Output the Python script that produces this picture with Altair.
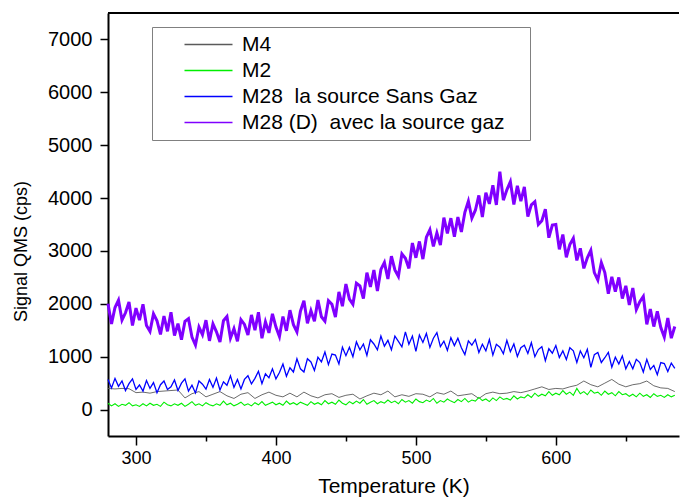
import altair as alt
import pandas as pd

# ---------------- data ----------------
T_START = 280.0
T_STEP = 2.5          # sampling of the dense QMS series (K)
M4_START = 280.0
M4_STEP = 5.0         # sampling of the M4 series (K)
X_MIN, X_MAX = 280, 688
Y_MIN, Y_MAX = -500, 7500

names = ["M4", "M2", "M28\u00a0 la source Sans Gaz", "M28 (D)\u00a0 avec la source gaz"]
colors = ["#5a5a5a", "#00ee00", "#0000ff", "#8000ff"]
widths = [0.9, 1.1, 1.3, 3.0]

m28d = [
    2000, 1620, 1930, 2070, 1690, 1830, 2035, 1590, 1920, 1690,
    1990, 1590, 1480, 1810, 1680, 1420, 1770, 1480, 1840, 1400,
    1625, 1320, 1670, 1720, 1370, 1220, 1560, 1415, 1690, 1300,
    1620, 1470, 1280, 1680, 1760, 1350, 1530, 1290, 1700, 1610,
    1410, 1790, 1500, 1840, 1350, 1660, 1450, 1810, 1560, 1380,
    1760, 1490, 1880, 1605, 1470, 1860, 2060, 1630, 1870, 1670,
    2070, 1755, 1670, 2060, 1990, 1750, 2225, 1955, 2375, 2090,
    1990, 2390, 2340, 2100, 2590, 2320, 2640, 2240, 2650, 2780,
    2470, 2900, 2640, 2520, 2945, 2860, 2670, 3150, 2870, 3180,
    2845, 3260, 3400, 3085, 3340, 3110, 3630, 3330, 3620, 3270,
    3640, 3360, 3730, 3940, 3620, 3770, 4050, 3640, 4100, 3890,
    4240, 3870, 4500, 3960, 4155, 4310, 3880, 4230, 3940, 4210,
    3650, 3870, 3930, 3500, 3570, 3790, 3250, 3490, 3500, 3030,
    3310, 2880, 3120, 3240, 2820, 3050, 2670, 2870, 3010, 2590,
    2450, 2780, 2590, 2190, 2510, 2230, 2500, 2100, 2340, 1980,
    2300, 1890, 2040, 2140, 1610, 1900, 1570, 1860, 1550, 1370,
    1730, 1350, 1570,
]

m28 = [
    570, 410, 590, 440, 540, 360, 490, 580, 380, 465,
    350, 550, 400, 510, 320, 470, 540, 380, 430, 560,
    360, 500, 580, 350, 460, 315, 540, 480, 385, 570,
    420, 595, 370, 525, 460, 640, 420, 570, 390, 570,
    640, 485, 590, 725, 490, 675, 600, 770, 580, 700,
    860, 630, 790, 710, 960, 770, 710, 960, 900, 740,
    990, 900, 1090, 850, 1050, 1030, 860, 1180, 1020, 1180,
    1000, 1280, 1130, 1240, 1025, 1320, 1240, 1130, 1390, 1200,
    1310, 1130, 1390, 1290, 1185, 1470, 1235, 1390, 1100, 1410,
    1270, 1440, 1175, 1350, 1455, 1190, 1295, 1120, 1360, 1210,
    1350, 1170, 1040, 1300, 1220, 1325, 1080, 1235, 1110, 1325,
    1030, 1235, 1180, 1055, 1310, 1095, 1240, 1005, 1170, 1215,
    1060, 1265, 1000, 1135, 1190, 925, 1150, 1065, 1210, 985,
    1110, 945, 1170, 1110, 890, 1110, 980, 1140, 800, 1040,
    1080, 890, 980, 1080, 800, 990, 860, 1015, 770, 910,
    770, 950, 890, 710, 950, 760, 835, 660, 890, 870,
    720, 880, 780,
]

m2 = [
    120, 70, 110, 60, 100, 80, 130, 70, 90, 60,
    110, 70, 120, 80, 100, 60, 140, 90, 70, 110,
    80, 120, 60, 100, 150, 80, 110, 70, 130, 90,
    70, 110, 80, 160, 90, 120, 70, 100, 140, 80,
    110, 70, 130, 90, 150, 80, 110, 140, 90, 120,
    80, 160, 100, 130, 90, 140, 110, 80, 150, 100,
    130, 90, 170, 110, 140, 100, 180, 120, 90, 150,
    110, 160, 120, 190, 100, 140, 170, 110, 150, 120,
    180, 130, 160, 110, 190, 140, 170, 120, 200, 150,
    130, 180, 150, 210, 120, 170, 140, 200, 160, 130,
    190, 150, 210, 140, 180, 160, 230, 170, 200, 150,
    220, 170, 240, 190, 210, 180, 260, 200, 240, 220,
    280, 230, 310, 250, 290, 260, 340, 270, 310, 280,
    360, 290, 330, 270, 400, 300, 340, 280, 370, 310,
    330, 270, 350, 290, 320, 260, 340, 280, 300, 250,
    290, 240, 310, 250, 280, 230, 300, 250, 270, 230,
    280, 240, 270,
]

m4 = [
    400, 390, 400, 395, 320, 330, 310, 340, 350, 360,
    370, 220, 300, 340, 240, 290, 340, 260, 210, 290,
    320, 210, 280, 330, 270, 240, 310, 240, 330, 260,
    220, 280, 300, 230, 270, 290, 200, 260, 310, 280,
    350, 240, 280, 250, 300, 290, 240, 320, 290, 350,
    260, 280, 300, 210, 300, 330, 300, 310, 340, 320,
    350, 390, 430, 380, 400, 390, 430, 460, 540, 470,
    430, 500, 570, 480, 430, 470, 490, 540, 450, 410,
    400, 340,
]

# ---------------- build table ----------------
rows = []
for name, vals, start, step in [
    (names[0], m4, M4_START, M4_STEP),
    (names[1], m2, T_START, T_STEP),
    (names[2], m28, T_START, T_STEP),
    (names[3], m28d, T_START, T_STEP),
]:
    for i, v in enumerate(vals):
        rows.append({"T": start + i * step, "v": v, "series": name})
df = pd.DataFrame(rows)

FONT = "Liberation Sans"

xscale = alt.Scale(domain=[X_MIN, X_MAX], nice=False, zero=False)
yscale = alt.Scale(domain=[Y_MIN, Y_MAX], nice=False, zero=False)

xaxis = alt.Axis(
    values=[300, 350, 400, 450, 500, 550, 600, 650],
    labelExpr="datum.value % 100 === 0 ? datum.label : ''",
    format="d",
    tickSize={"condition": {"test": "datum.value % 100 === 0", "value": 9}, "value": 5},
    tickColor="black", tickWidth=1.5,
    domainColor="black", domainWidth=2,
    labelFont=FONT, labelFontSize=18, labelColor="black", labelPadding=4,
    labelOverlap=False, grid=False,
    title="Temperature (K)", titleFont=FONT, titleFontSize=21,
    titleFontWeight="normal", titleColor="black", titlePadding=8,
)
yaxis = alt.Axis(
    values=list(range(0, 7001, 500)),
    labelExpr="datum.value % 1000 === 0 ? datum.label : ''",
    format="d",
    tickSize={"condition": {"test": "datum.value % 1000 === 0", "value": 8}, "value": 4},
    tickColor="black", tickWidth=1.5,
    domainColor="black", domainWidth=2,
    labelFont=FONT, labelFontSize=20, labelColor="black", labelPadding=8,
    labelOverlap=False, grid=False,
    title="Signal QMS (cps)", titleFont=FONT, titleFontSize=18,
    titleFontWeight="normal", titleColor="black",
    titleX=-87, titleY=238, titleBaseline="middle", titleAngle=270, titleAlign="center",
)

# trailing no-break spaces (closed by a zero-width space so they are kept)
# widen the legend frame on the right like the reference box
legend = alt.Legend(
    title=None, orient="none", legendX=44, legendY=14,
    strokeColor="#808080", fillColor="white", padding=7,
    symbolType="M-4,0H4", symbolSize=144, symbolOffset=39, symbolStrokeWidth=1.3,
    labelFont=FONT, labelFontSize=21, labelColor="black", labelOffset=23,
    labelLimit=0, rowPadding=4,
    labelExpr="datum.label + '\u00a0\u00a0\u00a0\u200b'",
)

color = alt.Color("series:N", scale=alt.Scale(domain=names, range=colors), legend=legend)

layers = []
for name, w in zip(names, widths):
    layers.append(
        alt.Chart(df).transform_filter(alt.datum.series == name)
        .mark_line(interpolate="linear", strokeWidth=w)
        .encode(
            x=alt.X("T:Q", scale=xscale, axis=xaxis),
            y=alt.Y("v:Q", scale=yscale, axis=yaxis),
            color=color,
            order=alt.Order("T:Q"),
        )
    )

# top frame line of the plot area
top = alt.Chart(df).transform_filter(alt.datum.series == names[0]).mark_rule(
    color="black", strokeWidth=2
).encode(
    x=alt.datum(X_MIN), x2=alt.datum(X_MAX), y=alt.datum(Y_MAX)
)

chart = alt.layer(*layers, top).properties(
    width=571, height=423,
    autosize=alt.AutoSizeParams(type="none"),
    padding={"left": 108, "top": 13, "right": 1, "bottom": 66},
    background="white",
).configure_view(stroke=None)

chart.save("out.html", embed_options={"renderer": "svg", "actions": False})
